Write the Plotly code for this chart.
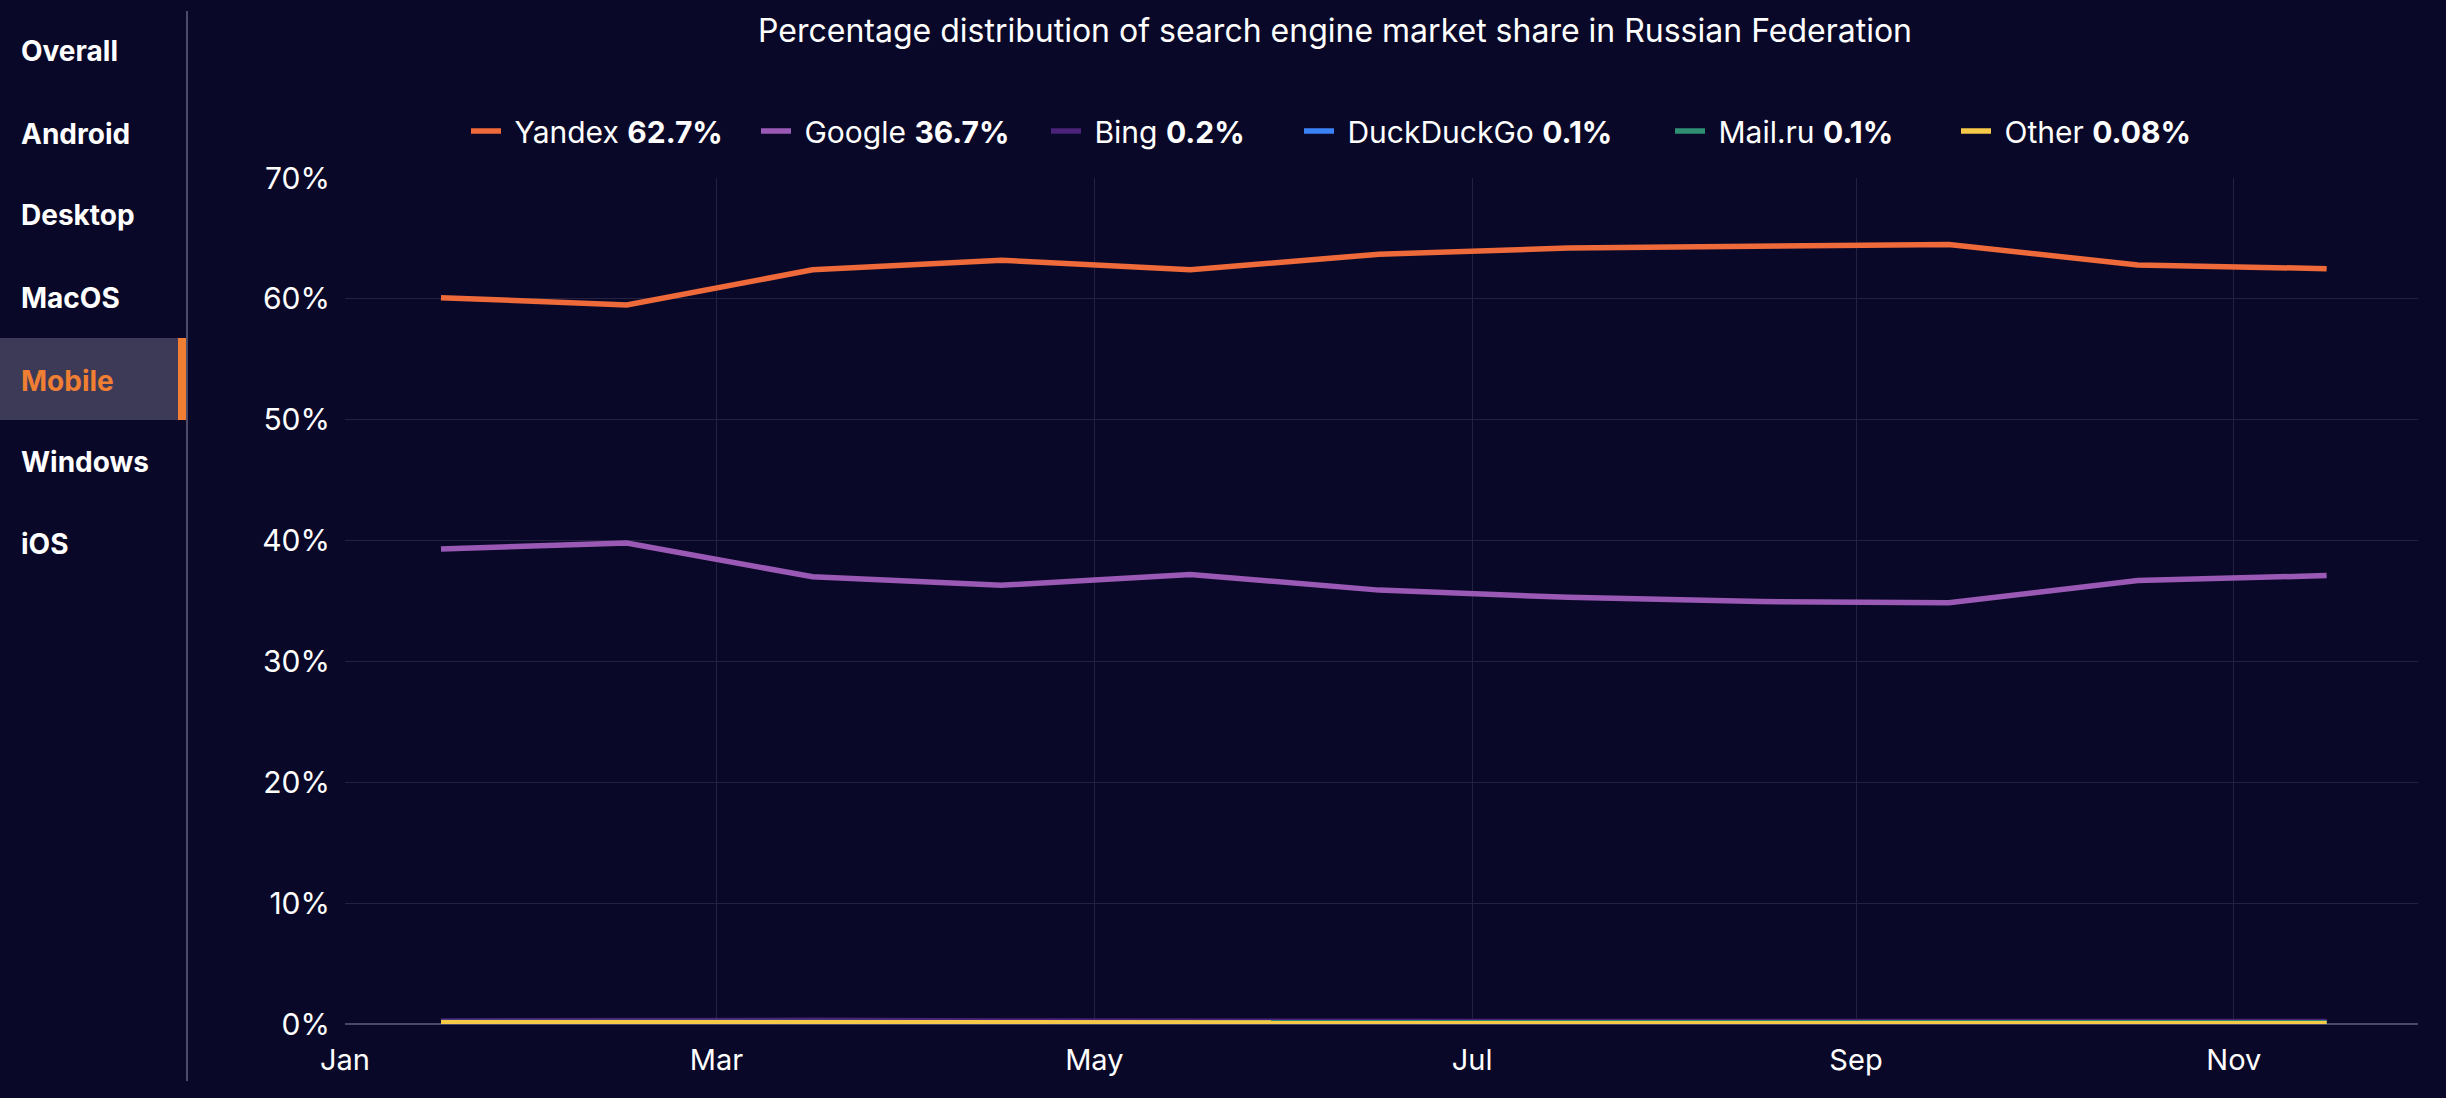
import plotly.graph_objects as go

# ---------------- data ----------------
months = ["2024-01", "2024-02", "2024-03", "2024-04", "2024-05", "2024-06",
          "2024-07", "2024-08", "2024-09", "2024-10", "2024-11"]

yandex = [60.1, 59.5, 62.4, 63.2, 62.4, 63.7, 64.2, 64.4, 64.5, 62.8, 62.5]
google = [39.3, 39.8, 37.0, 36.3, 37.2, 35.9, 35.3, 34.95, 34.85, 36.7, 37.1]
bing = [0.25, 0.3, 0.3, 0.25, 0.2, 0.2, 0.2, 0.2, 0.2, 0.2, 0.2]
duckduckgo = [0.1, 0.1, 0.12, 0.1, 0.1, 0.1, 0.1, 0.1, 0.1, 0.1, 0.1]
mailru = [0.12, 0.1, 0.1, 0.1, 0.1, 0.1, 0.1, 0.1, 0.1, 0.1, 0.1]
other = [0.1, 0.09, 0.08, 0.08, 0.08, 0.07, 0.08, 0.08, 0.08, 0.08, 0.08]

series_names = ["Yandex", "Google", "Bing", "DuckDuckGo", "Mail.ru", "Other"]
series_shares = ["62.7%", "36.7%", "0.2%", "0.1%", "0.1%", "0.08%"]
series_values = [yandex, google, bing, duckduckgo, mailru, other]
series_colors = ["#ee6a3a", "#9b59b6", "#4a2278", "#3b82f6", "#2f8f72", "#f7c948"]

menu_items = ["Overall", "Android", "Desktop", "MacOS", "Mobile", "Windows", "iOS"]
active_item = "Mobile"

title_text = "Percentage distribution of search engine market share in Russian Federation"

# ---------------- layout geometry ----------------
W, H = 2446, 1098
L, R, T, B = 345, 28, 178, 74
BG = "#0a0828"
FONT = "Inter"


def px2x(px):
    return (px - L) / (W - L - R)


def px2y(py):
    return (H - B - py) / (H - T - B)


legend_left_px = [466, 756, 1046, 1299, 1670, 1956]

fig = go.Figure()
legend_layouts = {}
for i, (name, share, vals, col) in enumerate(zip(series_names, series_shares, series_values, series_colors)):
    lg = "legend" if i == 0 else f"legend{i + 1}"
    fig.add_trace(go.Scatter(
        x=months, y=vals, mode="lines",
        name=f"\u00a0{name} <b>{share}</b>",
        line=dict(color=col, width=5.5),
        xperiod="M1", xperiodalignment="middle",
        legend=lg,
    ))
    legend_layouts[lg] = dict(
        orientation="h", x=px2x(legend_left_px[i]), xanchor="left",
        y=px2y(131), yanchor="middle",
        font=dict(family=FONT, size=30, color="#ffffff"),
        bgcolor="rgba(0,0,0,0)", itemwidth=30,
    )

# sidebar
menu_y = [51, 134, 215, 298, 381, 462, 544]
shapes = [
    dict(type="rect", xref="paper", yref="paper",
         x0=px2x(0), x1=px2x(187), y0=px2y(420), y1=px2y(338),
         fillcolor="#3c3a57", line=dict(width=0), layer="below"),
    dict(type="rect", xref="paper", yref="paper",
         x0=px2x(178), x1=px2x(187), y0=px2y(420), y1=px2y(338),
         fillcolor="#f07f33", line=dict(width=0)),
    dict(type="line", xref="paper", yref="paper",
         x0=px2x(187), x1=px2x(187), y0=px2y(1081), y1=px2y(11),
         line=dict(color="#4d4b68", width=2)),
]
annotations = []
for item, yy in zip(menu_items, menu_y):
    annotations.append(dict(
        text=f"<b>{item}</b>", xref="paper", yref="paper",
        x=px2x(19), y=px2y(yy), xanchor="left", yanchor="middle",
        showarrow=False,
        font=dict(family=FONT, size=28,
                  color="#f07f33" if item == active_item else "#ffffff"),
    ))

fig.update_layout(
    width=W, height=H,
    margin=dict(l=L, r=R, t=T, b=B, pad=0),
    paper_bgcolor=BG, plot_bgcolor=BG,
    font=dict(family=FONT, color="#ffffff", size=28),
    title=dict(text=title_text, x=1335 / W, xanchor="center",
               y=1 - 31 / H, yanchor="middle",
               font=dict(family=FONT, size=32, color="#ffffff")),
    showlegend=True,
    shapes=shapes,
    annotations=annotations,
    xaxis=dict(
        type="date", range=["2024-01-01", "2024-11-30 18:00"],
        dtick="M2", tick0="2024-01-01", tickformat="%b",
        showgrid=True, gridcolor="#24223f", gridwidth=1,
        showline=False, zeroline=False, ticks="",
        tickfont=dict(family=FONT, size=29, color="#ffffff"),
        ticklabelstandoff=16,
    ),
    yaxis=dict(
        range=[0, 70], dtick=10, ticksuffix="%",
        showgrid=True, gridcolor="#24223f", gridwidth=1,
        zeroline=True, zerolinecolor="#4a4866", zerolinewidth=2,
        showline=False, ticks="",
        tickfont=dict(family=FONT, size=30, color="#ffffff"),
        ticklabelstandoff=14,
    ),
    **legend_layouts,
)

fig.write_html("out.html", config={"displayModeBar": False},
               post_script="document.body.style.margin='0';document.body.style.overflow='hidden';document.body.style.background='#0a0828';")
